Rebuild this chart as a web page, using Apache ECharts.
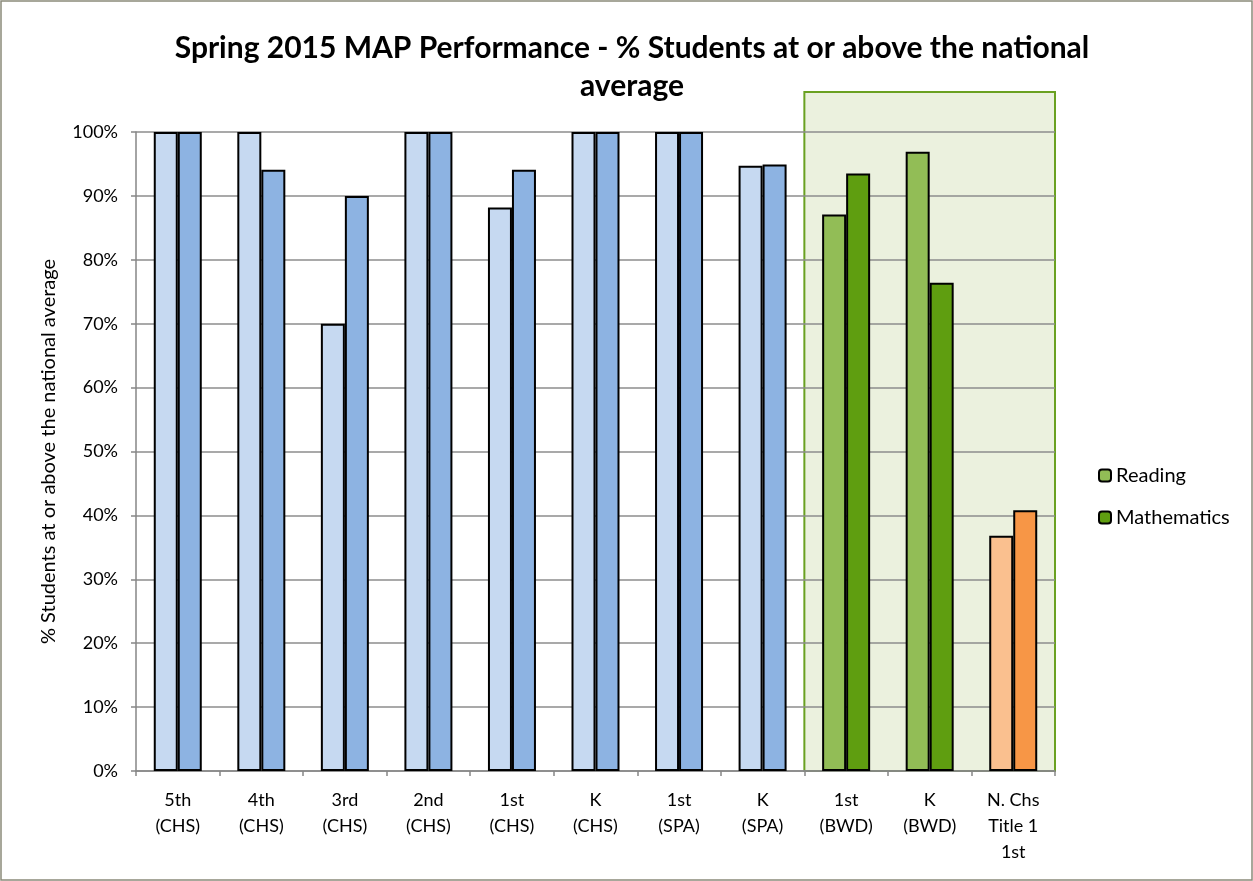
<!DOCTYPE html>
<html><head><meta charset="utf-8">
<script src="https://cdn.jsdelivr.net/npm/echarts@6/dist/echarts.min.js"></script>
<style>html,body{margin:0;padding:0;background:#fff}#c{width:1253px;height:881px}</style>
</head><body><div id="c"></div>
<script>
const categories = ['5th\n(CHS)','4th\n(CHS)','3rd\n(CHS)','2nd\n(CHS)','1st\n(CHS)','K\n(CHS)','1st\n(SPA)','K\n(SPA)','1st\n(BWD)','K\n(BWD)','N. Chs\nTitle 1\n1st'];
const reading = [100,100,70,100,88.2,100,100,94.7,87.1,96.9,36.8];
const mathematics = [100,94.1,90,100,94.1,100,100,94.9,93.5,76.4,40.8];
const groups = ['chs','chs','chs','chs','chs','chs','chs','chs','bwd','bwd','nchs'];
const yTicks = [0,10,20,30,40,50,60,70,80,90,100];

const readingColor = {chs:'#C6D9F1', bwd:'#92BD56', nchs:'#FAC08F'};
const mathColor = {chs:'#8DB3E2', bwd:'#5F9E10', nchs:'#F79646'};

const font = 'Lato, "Open Sans", sans-serif';
const chart = echarts.init(document.getElementById('c'));
const gridL = 136, gridR = 198, gridT = 132, gridB = 110;

function mk(vals, colors){
  return vals.map((v,i)=>({value:v, itemStyle:{color:colors[groups[i]]}}));
}

chart.setOption({
  animation:false,
  textStyle:{fontFamily:font},
  title:{text:'Spring 2015 MAP Performance - % Students at or above the national\naverage',
    left:627, top:24, textAlign:'center',
    textStyle:{fontFamily:font,fontSize:30,fontWeight:'bold',color:'#000',lineHeight:38}},
  legend:{orient:'vertical', left:1093, top:460, itemWidth:12, itemHeight:12, itemGap:21,
    textStyle:{fontFamily:font,fontSize:20,color:'#000',lineHeight:21},
    data:['Reading','Mathematics']},
  grid:{left:gridL, right:gridR, top:gridT, bottom:gridB, containLabel:false},
  xAxis:{type:'category', data:categories,
    axisLine:{lineStyle:{color:'#868686',width:1.5}},
    axisTick:{show:true,length:5,lineStyle:{color:'#868686',width:1.5}},
    axisLabel:{color:'#000',fontSize:18,lineHeight:26,margin:16,interval:0,fontFamily:font}},
  yAxis:{type:'value', min:0, max:100, interval:10,
    name:'% Students at or above the national average', nameLocation:'middle', nameGap:77,
    nameTextStyle:{fontSize:20,color:'#000',fontFamily:font},
    axisLine:{show:true,lineStyle:{color:'#868686',width:1.5}},
    axisTick:{show:true,length:5,lineStyle:{color:'#868686',width:1.5}},
    splitLine:{lineStyle:{color:'#8c8c8c',width:1.5}},
    axisLabel:{formatter:v=>yTicks.includes(v)?v+'%':'',color:'#000',fontSize:18,margin:18,fontFamily:font}},
  series:[
    {name:'Reading', type:'bar', data:mk(reading,readingColor), barWidth:24, barGap:'0%',
     itemStyle:{color:'#92BD56',borderColor:'#000',borderWidth:2}},
    {name:'Mathematics', type:'bar', data:mk(mathematics,mathColor), barWidth:24, barGap:'0%',
     itemStyle:{color:'#5F9E10',borderColor:'#000',borderWidth:2}}
  ]
});

const c8 = chart.convertToPixel({xAxisIndex:0}, categories[8]);
const c10 = chart.convertToPixel({xAxisIndex:0}, categories[10]);
const bw = (c10 - c8)/2;
const x0 = c8 - bw/2, x1 = c10 + bw/2;
const yBottom = chart.convertToPixel({yAxisIndex:0}, 0);
const yTop = gridT - 40;
chart.setOption({
  graphic:[
    {type:'rect', z:-10, silent:true, shape:{x:x0, y:yTop, width:x1-x0, height:yBottom-yTop},
     style:{fill:'#EBF1DE', stroke:'#6AA121', lineWidth:2}},
    {type:'rect', z:-10, silent:true, shape:{x:1, y:1, width:1251, height:879},
     style:{fill:'none', stroke:'#8a8a7a', lineWidth:1.5}}
  ]
});
</script></body></html>
